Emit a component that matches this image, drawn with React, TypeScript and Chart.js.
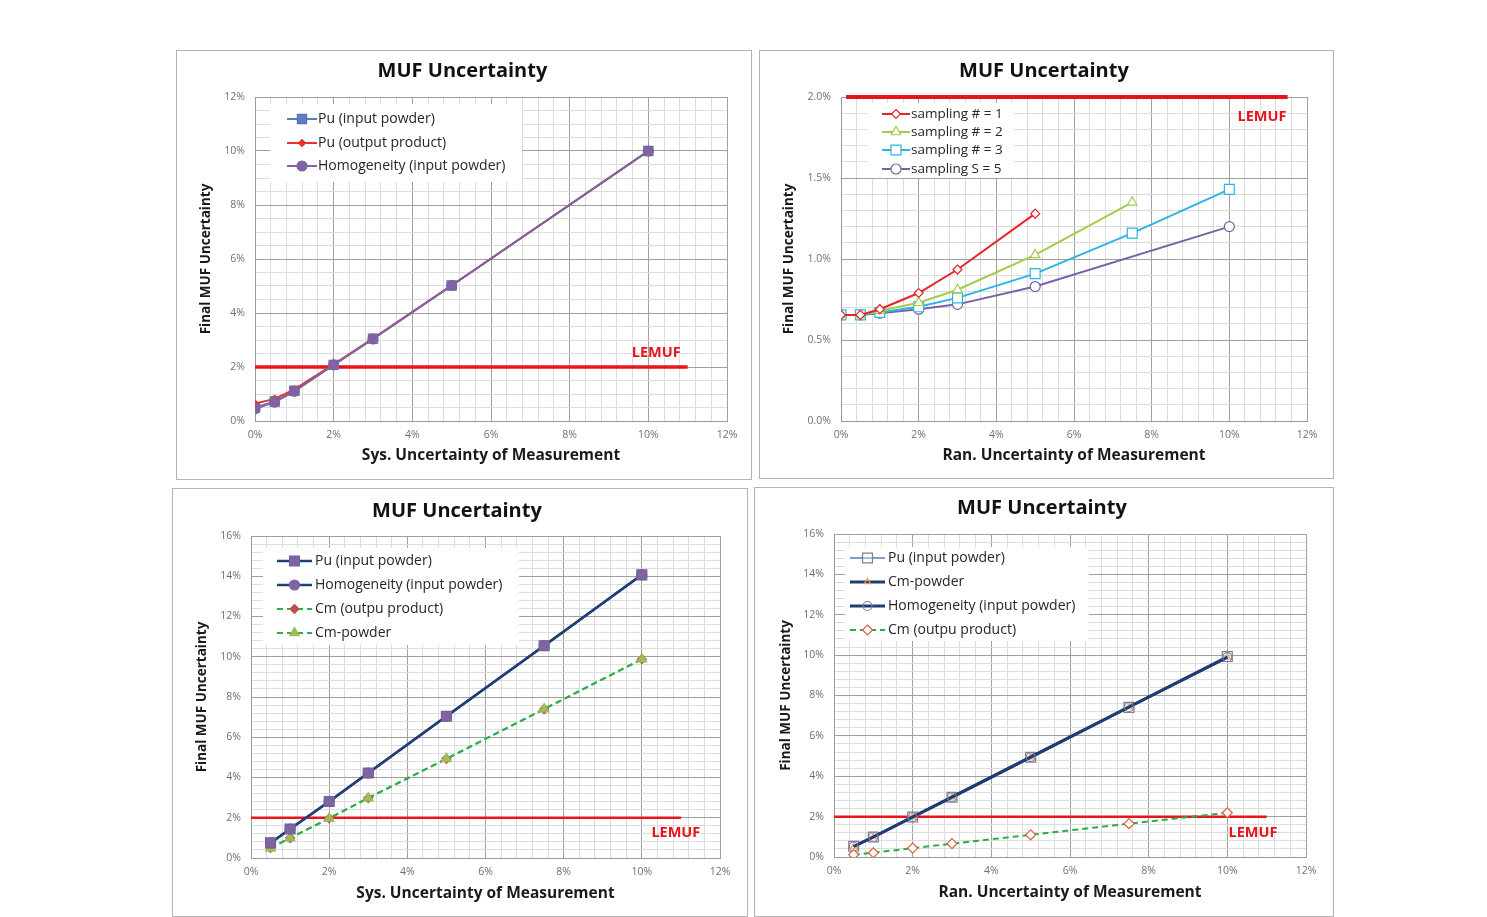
import React, { useEffect, useRef } from 'react';
import { Chart, registerables } from 'chart.js';

Chart.register(...registerables);

const FONT = "'Open Sans', 'Liberation Sans', sans-serif";

// ---------------- DATA ----------------
const chartTitle = 'MUF Uncertainty';
const sysAxisTitle = 'Sys. Uncertainty of Measurement';
const ranAxisTitle = 'Ran. Uncertainty of Measurement';
const yAxisTitle = 'Final MUF Uncertainty';
const lemufLabel = 'LEMUF';
const lemufValue = [2, 2];

// Panel 1 (top-left): systematic uncertainty
const p1X = [0, 0.5, 1, 2, 3, 5, 10];
const p1PuInput = [0.5, 0.72, 1.12, 2.08, 3.05, 5.02, 10.0];
const p1PuOutput = [0.65, 0.82, 1.17, 2.1, 3.05, 5.02, 10.0];
const p1Homogeneity = [0.45, 0.7, 1.1, 2.08, 3.04, 5.02, 10.0];
const p1LemufX = [0, 11];

// Panel 2 (top-right): random uncertainty, sampling count
const p2X = [0, 0.5, 1, 2, 3, 5, 7.5, 10];
const p2Samp1 = [0.655, 0.655, 0.69, 0.79, 0.935, 1.28];
const p2Samp2 = [0.655, 0.655, 0.68, 0.73, 0.81, 1.025, 1.35];
const p2Samp3 = [0.655, 0.655, 0.67, 0.705, 0.76, 0.91, 1.16, 1.43];
const p2Samp5X = [0, 0.5, 1, 2, 3, 5, 10];
const p2Samp5 = [0.655, 0.655, 0.665, 0.69, 0.72, 0.83, 1.2];
const p2LemufX = [0.13, 11.5];

// Panel 3 (bottom-left): systematic uncertainty
const p3X = [0.5, 1, 2, 3, 5, 7.5, 10];
const p3PuInput = [0.75, 1.44, 2.81, 4.22, 7.04, 10.55, 14.07];
const p3Homogeneity = [0.75, 1.44, 2.81, 4.22, 7.04, 10.55, 14.07];
const p3CmOutput = [0.5, 0.99, 1.97, 2.98, 4.93, 7.4, 9.88];
const p3CmPowder = [0.48, 0.99, 1.97, 2.98, 4.93, 7.4, 9.88];
const p3LemufX = [0, 11];

// Panel 4 (bottom-right): random uncertainty
const p4X = [0.5, 1, 2, 3, 5, 7.5, 10];
const p4PuInput = [0.53, 0.99, 1.98, 2.96, 4.94, 7.41, 9.93];
const p4CmPowder = [0.52, 0.99, 1.98, 2.97, 4.95, 7.43, 9.9];
const p4Homogeneity = [0.52, 0.99, 1.98, 2.97, 4.95, 7.43, 9.9];
const p4CmOutput = [0.12, 0.21, 0.44, 0.66, 1.1, 1.65, 2.19];
const p4LemufX = [0, 11];

// ---------------- HELPERS ----------------
const pts = (xs: number[], ys: number[]) => ys.map((y, i) => ({ x: xs[i], y }));

const line = (label: string, xs: number[], ys: number[], o: any) => ({
  label,
  data: pts(xs, ys),
  fill: false,
  tension: 0,
  pointBorderWidth: 1.2,
  pointHoverRadius: 0,
  ...o,
});

const lemufSet = (xs: number[], width: number) => ({
  label: lemufLabel,
  data: pts(xs, lemufValue),
  borderColor: '#E8141B',
  borderWidth: width,
  pointRadius: 0,
  fill: false,
  clip: 6,
  order: 10,
  legendHidden: true,
});

const isMajor = (v: number, major: number) => Math.abs(v / major - Math.round(v / major)) < 1e-6;

const makeTicks = (min: number, max: number, step: number) => {
  const n = Math.round((max - min) / step);
  const arr: { value: number }[] = [];
  for (let i = 0; i <= n; i++) arr.push({ value: Math.round((min + i * step) * 10000) / 10000 });
  return arr;
};

function drawMarker(ctx: CanvasRenderingContext2D, style: string, x: number, y: number, r: number, fill: string, stroke: string, lw: number) {
  if (!r) return;
  ctx.save();
  ctx.setLineDash([]);
  ctx.beginPath();
  if (style === 'rect') {
    const s = r * Math.SQRT1_2;
    ctx.rect(x - s, y - s, 2 * s, 2 * s);
  } else if (style === 'rectRot') {
    ctx.moveTo(x, y - r);
    ctx.lineTo(x + r, y);
    ctx.lineTo(x, y + r);
    ctx.lineTo(x - r, y);
    ctx.closePath();
  } else if (style === 'triangle') {
    for (let k = 0; k < 3; k++) {
      const a = (k * 2 * Math.PI) / 3;
      const px = x + Math.sin(a) * r;
      const py = y - Math.cos(a) * r;
      if (k === 0) ctx.moveTo(px, py);
      else ctx.lineTo(px, py);
    }
    ctx.closePath();
  } else {
    ctx.arc(x, y, r, 0, Math.PI * 2);
  }
  ctx.fillStyle = fill;
  ctx.fill();
  ctx.lineWidth = lw;
  ctx.strokeStyle = stroke;
  ctx.stroke();
  ctx.restore();
}

const boxLegendPlugin = {
  id: 'boxLegend',
  afterDatasetsDraw(chart: any, _args: any, opts: any) {
    if (!opts || !opts.rect) return;
    const ctx: CanvasRenderingContext2D = chart.ctx;
    const [x1, y1, x2, y2] = opts.rect;
    ctx.save();
    ctx.fillStyle = '#ffffff';
    ctx.fillRect(x1, y1, x2 - x1, y2 - y1);
    const sets = chart.data.datasets.filter((d: any) => !d.legendHidden);
    sets.forEach((d: any, i: number) => {
      const y = opts.rows[i];
      ctx.save();
      ctx.beginPath();
      ctx.setLineDash(d.borderDash || []);
      ctx.lineWidth = d.borderWidth;
      ctx.strokeStyle = d.borderColor;
      ctx.moveTo(opts.sampleX, y);
      ctx.lineTo(opts.sampleX + opts.sampleW, y);
      ctx.stroke();
      ctx.restore();
      drawMarker(ctx, d.pointStyle || 'circle', opts.sampleX + opts.sampleW / 2, y, d.pointRadius, d.pointBackgroundColor, d.pointBorderColor, d.pointBorderWidth || 1);
      ctx.fillStyle = '#262626';
      ctx.font = `${opts.fontSize}px ${FONT}`;
      ctx.textAlign = 'left';
      ctx.textBaseline = 'middle';
      ctx.fillText(d.label, opts.textX, y + 0.5);
    });
    ctx.restore();
  },
};

const lemufTextPlugin = {
  id: 'lemufText',
  afterDatasetsDraw(chart: any, _args: any, opts: any) {
    if (!opts || opts.x === undefined) return;
    const ctx: CanvasRenderingContext2D = chart.ctx;
    const px = chart.scales.x.getPixelForValue(opts.x);
    const py = chart.scales.y.getPixelForValue(opts.y);
    ctx.save();
    ctx.font = `bold 14.5px ${FONT}`;
    ctx.fillStyle = '#E8141B';
    ctx.textAlign = 'center';
    ctx.textBaseline = 'middle';
    ctx.fillText(lemufLabel, px, py);
    ctx.restore();
  },
};

Chart.register(boxLegendPlugin, lemufTextPlugin);

type PanelSpec = {
  box: [number, number, number, number];
  plot: [number, number, number, number];
  titleY: number;
  xTitleY: number;
  yTitleX: number;
  xTitle: string;
  yMax: number;
  yStep: number;
  yMajor: number;
  yDec: number;
  datasets: any[];
  lemuf: { x: number; y: number };
  legend: { rect: number[]; rows: number[]; sampleX: number; sampleW: number; textX: number; fontSize: number };
};

const TITLE_SIZE = 20;
const XTITLE_SIZE = 15.5;
const YTITLE_SIZE = 13.5;

function buildConfig(p: PanelSpec) {
  const [bx, by, w, h] = p.box;
  const [l, t, r, b] = p.plot;
  const lhT = TITLE_SIZE * 1.2;
  const lhX = XTITLE_SIZE * 1.2;
  const lhY = YTITLE_SIZE * 1.2;
  const padLeft = p.yTitleX - bx - lhY / 2;
  const padRight = bx + w - r;
  const padTop = p.titleY - by - lhT / 2;
  const titlePadBottom = t - by - padTop - lhT;
  const padBottom = by + h - p.xTitleY - lhX / 2;
  const yWidth = l - bx - padLeft;
  const xHeight = h - padBottom - (b - by);
  const lg = p.legend;
  const legend = {
    rect: [lg.rect[0] - bx, lg.rect[1] - by, lg.rect[2] - bx, lg.rect[3] - by],
    rows: lg.rows.map((v) => v - by),
    sampleX: lg.sampleX - bx,
    sampleW: lg.sampleW,
    textX: lg.textX - bx,
    fontSize: lg.fontSize,
  };
  const gridColor = (major: number) => (c: any) => (c.tick && isMajor(c.tick.value, major) ? '#a0a0a0' : '#dcdcdc');
  return {
    type: 'line',
    data: { datasets: p.datasets },
    options: {
      responsive: false,
      animation: false,
      devicePixelRatio: 1,
      events: [],
      layout: { padding: { left: padLeft, right: padRight, top: padTop, bottom: padBottom } },
      plugins: {
        legend: { display: false },
        tooltip: { enabled: false },
        title: {
          display: true,
          text: chartTitle,
          color: '#111',
          font: { family: FONT, size: TITLE_SIZE, weight: 'bold' },
          padding: { top: 0, bottom: titlePadBottom },
        },
        boxLegend: legend,
        lemufText: p.lemuf,
      },
      scales: {
        x: {
          type: 'linear',
          min: 0,
          max: 12,
          afterBuildTicks: (s: any) => {
            s.ticks = makeTicks(0, 12, 0.4);
          },
          afterFit: (s: any) => {
            s.height = xHeight;
          },
          ticks: {
            autoSkip: false,
            maxRotation: 0,
            padding: 8,
            color: '#707070',
            font: { family: FONT, size: 10.5 },
            callback: (v: number) => (isMajor(v, 2) ? `${Math.round(v)}%` : ''),
          },
          grid: { color: gridColor(2), drawTicks: false, lineWidth: 1 },
          border: { color: '#9a9a9a' },
          title: {
            display: true,
            text: p.xTitle,
            color: '#1a1a1a',
            font: { family: FONT, size: XTITLE_SIZE, weight: 'bold' },
            padding: 0,
          },
        },
        y: {
          type: 'linear',
          min: 0,
          max: p.yMax,
          afterBuildTicks: (s: any) => {
            s.ticks = makeTicks(0, p.yMax, p.yStep);
          },
          afterFit: (s: any) => {
            s.width = yWidth;
          },
          ticks: {
            autoSkip: false,
            padding: 10,
            color: '#707070',
            font: { family: FONT, size: 10.5 },
            callback: (v: number) => (isMajor(v, p.yMajor) ? `${v.toFixed(p.yDec)}%` : ''),
          },
          grid: { color: gridColor(p.yMajor), drawTicks: false, lineWidth: 1 },
          border: { color: '#9a9a9a' },
          title: {
            display: true,
            text: yAxisTitle,
            color: '#1a1a1a',
            font: { family: FONT, size: YTITLE_SIZE, weight: 'bold' },
            padding: 0,
          },
        },
      },
    },
  };
}

// ---------------- PANELS ----------------
const panels: PanelSpec[] = [
  {
    box: [176, 50, 576, 430],
    plot: [255, 97, 727, 421],
    titleY: 71.5,
    xTitleY: 456,
    yTitleX: 206,
    xTitle: sysAxisTitle,
    yMax: 12,
    yStep: 0.5,
    yMajor: 2,
    yDec: 0,
    lemuf: { x: 10.2, y: 2.52 },
    legend: { rect: [270, 104, 522, 182], rows: [119, 143, 166], sampleX: 287, sampleW: 30, textX: 318, fontSize: 14 },
    datasets: [
      line('Pu (input powder)', p1X, p1PuInput, {
        borderColor: '#4F81BD', borderWidth: 2, pointStyle: 'rect', pointRadius: 6.5,
        pointBackgroundColor: '#5F7CC0', pointBorderColor: '#5A72B4', order: 2,
      }),
      line('Pu (output product)', p1X, p1PuOutput, {
        borderColor: '#E3342F', borderWidth: 2, pointStyle: 'rectRot', pointRadius: 3.5,
        pointBackgroundColor: '#E3342F', pointBorderColor: '#E3342F', order: 1,
      }),
      line('Homogeneity (input powder)', p1X, p1Homogeneity, {
        borderColor: '#8064A2', borderWidth: 2, pointStyle: 'circle', pointRadius: 5,
        pointBackgroundColor: '#8064A2', pointBorderColor: '#8064A2', order: 0,
      }),
      lemufSet(p1LemufX, 3.5),
    ],
  },
  {
    box: [759, 50, 575, 429],
    plot: [841, 97, 1307, 421],
    titleY: 71.5,
    xTitleY: 456,
    yTitleX: 789,
    xTitle: ranAxisTitle,
    yMax: 2,
    yStep: 0.1,
    yMajor: 0.5,
    yDec: 1,
    lemuf: { x: 10.84, y: 1.88 },
    legend: { rect: [868, 103, 1014, 178], rows: [114, 132, 150, 169], sampleX: 882, sampleW: 28, textX: 911, fontSize: 13.5 },
    datasets: [
      line('sampling # = 1', p2X, p2Samp1, {
        borderColor: '#E3242B', borderWidth: 2, pointStyle: 'rectRot', pointRadius: 4.5,
        pointBackgroundColor: '#ffffff', pointBorderColor: '#E3242B', order: 0,
      }),
      line('sampling # = 2', p2X, p2Samp2, {
        borderColor: '#A2CD4A', borderWidth: 2, pointStyle: 'triangle', pointRadius: 5.5,
        pointBackgroundColor: '#ffffff', pointBorderColor: '#A2CD4A', order: 1,
      }),
      line('sampling # = 3', p2X, p2Samp3, {
        borderColor: '#2BB5E5', borderWidth: 2, pointStyle: 'rect', pointRadius: 7,
        pointBackgroundColor: '#ffffff', pointBorderColor: '#2BB5E5', order: 2,
      }),
      line('sampling S = 5', p2Samp5X, p2Samp5, {
        borderColor: '#7B60A8', borderWidth: 2, pointStyle: 'circle', pointRadius: 5,
        pointBackgroundColor: '#ffffff', pointBorderColor: '#7B60A8', order: 3,
      }),
      lemufSet(p2LemufX, 4),
    ],
  },
  {
    box: [172, 488, 576, 429],
    plot: [251, 536, 720, 858],
    titleY: 511,
    xTitleY: 894,
    yTitleX: 202,
    xTitle: sysAxisTitle,
    yMax: 16,
    yStep: 0.4,
    yMajor: 2,
    yDec: 0,
    lemuf: { x: 10.87, y: 1.24 },
    legend: { rect: [263, 548, 519, 645], rows: [561, 585, 609, 633], sampleX: 277, sampleW: 35, textX: 315, fontSize: 14 },
    datasets: [
      line('Pu (input powder)', p3X, p3PuInput, {
        borderColor: '#233E75', borderWidth: 2.5, pointStyle: 'rect', pointRadius: 7,
        pointBackgroundColor: '#8064A2', pointBorderColor: '#7060A0', order: 0,
      }),
      line('Homogeneity (input powder)', p3X, p3Homogeneity, {
        borderColor: '#233E75', borderWidth: 2.5, pointStyle: 'circle', pointRadius: 5,
        pointBackgroundColor: '#8064A2', pointBorderColor: '#8064A2', order: 1,
      }),
      line('Cm (outpu product)', p3X, p3CmOutput, {
        borderColor: '#2DB04B', borderWidth: 2, borderDash: [6, 4], pointStyle: 'rectRot', pointRadius: 4.5,
        pointBackgroundColor: '#C0504D', pointBorderColor: '#C0504D', order: 3,
      }),
      line('Cm-powder', p3X, p3CmPowder, {
        borderColor: '#2DB04B', borderWidth: 2, borderDash: [6, 4], pointStyle: 'triangle', pointRadius: 5.5,
        pointBackgroundColor: '#A9B850', pointBorderColor: '#9BBB59', order: 2,
      }),
      lemufSet(p3LemufX, 2.5),
    ],
  },
  {
    box: [754, 487, 580, 430],
    plot: [834, 534, 1306, 857],
    titleY: 508,
    xTitleY: 893,
    yTitleX: 786,
    xTitle: ranAxisTitle,
    yMax: 16,
    yStep: 0.4,
    yMajor: 2,
    yDec: 0,
    lemuf: { x: 10.65, y: 1.19 },
    legend: { rect: [845, 547, 1089, 641], rows: [558, 582, 606, 630], sampleX: 850, sampleW: 35, textX: 888, fontSize: 14 },
    datasets: [
      line('Pu (input powder)', p4X, p4PuInput, {
        borderColor: '#4F81BD', borderWidth: 1.5, pointStyle: 'rect', pointRadius: 7,
        pointBackgroundColor: 'rgba(255,255,255,0.35)', pointBorderColor: '#7F7F90', order: 3,
      }),
      line('Cm-powder', p4X, p4CmPowder, {
        borderColor: '#1F3C73', borderWidth: 3, pointStyle: 'triangle', pointRadius: 3.5,
        pointBackgroundColor: 'rgba(255,255,255,0)', pointBorderColor: '#F0A060', order: 2,
      }),
      line('Homogeneity (input powder)', p4X, p4Homogeneity, {
        borderColor: '#1F3C73', borderWidth: 3, pointStyle: 'circle', pointRadius: 4.5,
        pointBackgroundColor: 'rgba(255,255,255,0)', pointBorderColor: '#8080A0', order: 1,
      }),
      line('Cm (outpu product)', p4X, p4CmOutput, {
        borderColor: '#2DAA4B', borderWidth: 2, borderDash: [6, 4], pointStyle: 'rectRot', pointRadius: 5,
        pointBackgroundColor: '#ffffff', pointBorderColor: '#D4643C', order: 0,
      }),
      lemufSet(p4LemufX, 2.5),
    ],
  },
];

function Panel({ spec }: { spec: PanelSpec }) {
  const ref = useRef<HTMLCanvasElement | null>(null);
  useEffect(() => {
    if (!ref.current) return;
    const chart = new Chart(ref.current, buildConfig(spec) as any);
    return () => chart.destroy();
  }, [spec]);
  const [bx, by, w, h] = spec.box;
  return (
    <div
      style={{
        position: 'absolute',
        left: bx,
        top: by,
        width: w,
        height: h,
        boxSizing: 'border-box',
        border: '1px solid #b4b4b4',
        background: '#ffffff',
      }}
    >
      <canvas ref={ref} width={w} height={h} style={{ position: 'absolute', left: -1, top: -1, width: w, height: h }} />
    </div>
  );
}

export default function App() {
  return (
    <div style={{ position: 'absolute', left: 0, top: 0, width: 1487, height: 917, background: '#ffffff', overflow: 'hidden' }}>
      {panels.map((p, i) => (
        <Panel key={i} spec={p} />
      ))}
    </div>
  );
}
